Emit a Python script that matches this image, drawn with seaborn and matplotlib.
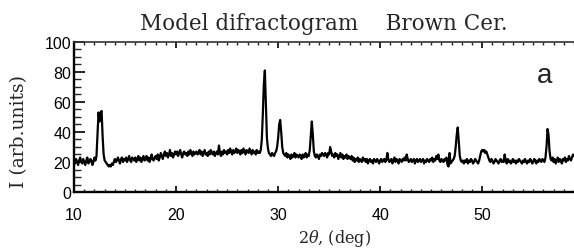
import numpy as np
import pandas as pd
import matplotlib
matplotlib.use("Agg")
import matplotlib.pyplot as plt
from matplotlib.ticker import MultipleLocator
import seaborn as sns

# ---- data: intensity sampled every 0.1 deg of 2theta, starting at 10.0 deg ----
angle_start = 10.0
angle_step = 0.1

intensity_10_20 = [
    21, 19, 22, 20, 18, 21, 23, 20, 19, 22,
    20, 18, 21, 23, 19, 20, 22, 21, 18, 20,
    23, 21, 24, 38, 53, 47, 53, 54, 37, 25,
    21, 20, 19, 18, 17, 18, 17, 19, 18, 20,
    22, 20, 21, 23, 21, 19, 22, 23, 20, 22,
    21, 23, 20, 22, 24, 21, 20, 23, 22, 21,
    23, 20, 22, 24, 21, 23, 20, 22, 24, 21,
    22, 24, 21, 23, 20, 22, 25, 22, 21, 23,
    24, 22, 25, 21, 23, 26, 24, 22, 25, 27,
    24, 26, 23, 25, 28, 24, 26, 23, 25, 27,
]
intensity_20_30 = [
    25, 27, 24, 26, 28, 25, 23, 26, 27, 25,
    26, 24, 27, 25, 28, 26, 24, 27, 25, 26,
    27, 25, 26, 28, 25, 27, 24, 26, 28, 25,
    26, 24, 27, 25, 28, 26, 25, 27, 24, 26,
    27, 25, 31, 26, 24, 27, 25, 28, 26, 27,
    25, 28, 26, 29, 27, 25, 28, 26, 27, 29,
    26, 28, 27, 25, 28, 26, 29, 27, 25, 28,
    27, 26, 29, 27, 25, 28, 26, 27, 25, 28,
    26, 27, 26, 28, 35, 52, 72, 81, 58, 36,
    29, 26, 25, 24, 26, 25, 24, 26, 27, 30,
]
intensity_30_40 = [
    36, 45, 48, 40, 30, 26, 25, 24, 26, 23,
    25, 24, 22, 25, 23, 24, 26, 23, 25, 24,
    23, 25, 24, 22, 25, 23, 24, 26, 23, 25,
    24, 28, 38, 47, 38, 27, 24, 23, 25, 24,
    22, 25, 24, 26, 25, 24, 26, 25, 23, 26,
    25, 30, 27, 24, 25, 23, 26, 24, 25, 22,
    24, 26, 23, 25, 22, 24, 23, 25, 22, 24,
    23, 22, 24, 21, 23, 20, 22, 21, 23, 20,
    22, 21, 20, 23, 21, 22, 20, 22, 19, 21,
    22, 20, 21, 19, 22, 21, 20, 22, 21, 19,
]
intensity_40_50 = [
    21, 22, 20, 21, 22, 20, 21, 26, 22, 20,
    21, 22, 19, 21, 23, 20, 22, 21, 19, 22,
    21, 20, 22, 21, 23, 21, 25, 22, 20, 21,
    22, 20, 21, 22, 19, 21, 22, 20, 21, 22,
    20, 21, 22, 19, 21, 20, 22, 21, 20, 22,
    21, 23, 20, 22, 21, 24, 22, 25, 21, 20,
    22, 21, 20, 22, 21, 23, 18, 17, 26, 19,
    20, 21, 22, 24, 30, 38, 43, 34, 24, 21,
    20, 21, 19, 21, 20, 22, 19, 21, 20, 22,
    21, 19, 20, 22, 21, 20, 19, 21, 24, 27,
]
intensity_50_59 = [
    28, 27, 28, 26, 27, 25, 23, 21, 20, 22,
    21, 19, 20, 22, 21, 20, 19, 21, 22, 20,
    21, 20, 25, 21, 19, 22, 20, 21, 19, 20,
    22, 20, 21, 19, 21, 20, 22, 21, 20, 19,
    21, 20, 22, 20, 19, 21, 20, 22, 21, 19,
    20, 22, 21, 19, 21, 20, 22, 21, 20, 22,
    21, 20, 23, 30, 42, 38, 27, 22, 21, 23,
    20, 22, 19, 21, 23, 20, 22, 21, 19, 22,
    21, 23, 20, 22, 21, 24, 22, 21, 23, 25,
    24,
]

x_ticks = [10, 20, 30, 40, 50]
y_ticks = [0, 20, 40, 60, 80, 100]
title_text = "Model difractogram    Brown Cer."
panel_label = "a"
x_label = r"$2\theta$, (deg)"
y_label = "I (arb.units)"

intensity = (intensity_10_20 + intensity_20_30 + intensity_30_40
             + intensity_40_50 + intensity_50_59)
angle = np.round(angle_start + angle_step * np.arange(len(intensity)), 2)
df = pd.DataFrame({"angle": angle, "intensity": intensity})

# ---- figure ----
sns.set_style("white")
plt.rcParams["font.family"] = ["DejaVu Serif", "DejaVu Sans"]
plt.rcParams["mathtext.fontset"] = "dejavuserif"

fig = plt.figure(figsize=(5.74, 2.51), dpi=100)
ax = fig.add_axes([0.129, 0.231, 0.872, 0.598])

sns.lineplot(data=df, x="angle", y="intensity", ax=ax, color="black",
             linewidth=1.6, estimator=None, sort=False)

ax.set_xlim(10, 59.05)
ax.set_ylim(0, 100)
ax.set_xticks(x_ticks)
ax.set_yticks(y_ticks)
ax.xaxis.set_minor_locator(MultipleLocator(1))
ax.yaxis.set_minor_locator(MultipleLocator(5))

tick_font = {"family": "Liberation Sans", "size": 11.5}
ax.set_xticklabels([str(t) for t in x_ticks], fontdict=tick_font)
ax.set_yticklabels([str(t) for t in y_ticks], fontdict=tick_font)

ax.tick_params(axis="x", which="major", direction="in", length=4, width=1.2,
               top=True, bottom=True, pad=11, colors="black")
ax.tick_params(axis="x", which="minor", direction="in", length=2, width=1.0,
               top=True, bottom=True)
ax.tick_params(axis="y", which="major", direction="in", length=8, width=1.2,
               left=True, right=False, pad=2, colors="black")
ax.tick_params(axis="y", which="minor", direction="in", length=5, width=1.0,
               left=True, right=False)

for side in ["left", "bottom"]:
    ax.spines[side].set_linewidth(1.7)
    ax.spines[side].set_color("black")
ax.spines["top"].set_linewidth(1.2)
ax.spines["top"].set_color("#333333")
ax.spines["right"].set_visible(False)

ax.set_xlabel(x_label, fontsize=11.5)
ax.xaxis.set_label_coords(0.52, -0.235)
ax.set_ylabel(y_label, fontsize=13.5)
ax.yaxis.set_label_coords(-0.092, 0.41)
ax.set_title(title_text, fontsize=15.5, pad=9)
ax.text(0.94, 0.78, panel_label, transform=ax.transAxes, fontsize=20,
        family="Liberation Sans", ha="center", va="center")

fig.savefig("out.png", dpi=100)
